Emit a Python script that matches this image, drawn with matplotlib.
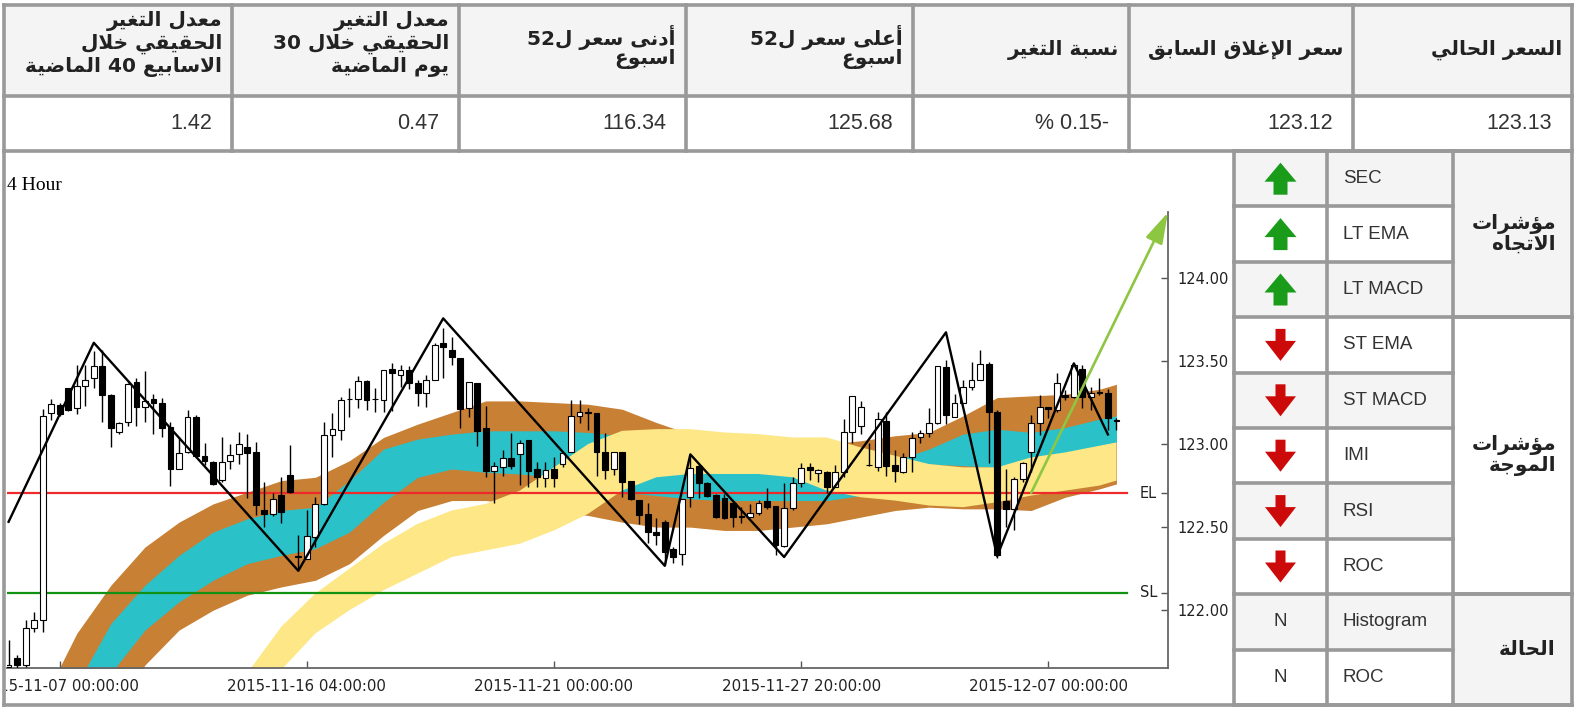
import re
import matplotlib
matplotlib.use("Agg")
import matplotlib.pyplot as plt
from matplotlib.patches import Rectangle, Polygon
from matplotlib.transforms import Bbox, TransformedBbox, blended_transform_factory

W, H = 1576, 709

# ---------------- data ----------------
header_lines = [
    ["معدل التغير", "الحقيقي خلال", "الاسابيع 40 الماضية"],
    ["معدل التغير", "الحقيقي خلال 30", "يوم الماضية"],
    ["أدنى سعر ل52", "اسبوع"],
    ["أعلى سعر ل52", "اسبوع"],
    ["نسبة التغير"],
    ["سعر الإغلاق السابق"],
    ["السعر الحالي"],
]
header_values = ["1.42", "0.47", "116.34", "125.68", "% 0.15-", "123.12", "123.13"]

indicator_names = ["SEC", "LT EMA", "LT MACD", "ST EMA", "ST MACD",
                   "IMI", "RSI", "ROC", "Histogram", "ROC"]
indicator_signal = ["up", "up", "up", "down", "down", "down", "down", "down", "N", "N"]
group_labels = [["مؤشرات", "الاتجاه"], ["مؤشرات", "الموجة"], ["الحالة"]]
group_rows = [(0, 3), (3, 8), (8, 10)]

# 4 hour candles (open, high, low, close)
opens = [121.66, 121.71, 121.67, 121.89, 121.94, 123.185, 123.233, 123.335, 123.215, 123.35,
         123.396, 123.47, 123.295, 123.072, 123.13, 123.375, 123.225, 123.273, 123.25, 123.104,
         122.853, 122.95, 123.161, 122.93, 122.89, 122.783, 122.90, 122.938, 122.984, 122.95,
         122.602, 122.578, 122.693, 122.813, 122.325, 122.311, 122.442, 122.637, 123.054, 123.084,
         123.27, 123.27, 123.38, 123.272, 123.265, 123.452, 123.416, 123.446, 123.365, 123.305,
         123.386, 123.606, 123.566, 123.52, 123.219, 123.365, 123.098, 122.837, 122.863, 122.914,
         122.938, 123.024, 122.847, 122.793, 122.847, 122.88, 122.95, 123.169, 123.195, 123.19,
         122.954, 122.849, 122.954, 122.777, 122.663, 122.582, 122.472, 122.532, 122.371, 122.337,
         122.683, 122.869, 122.763, 122.693, 122.673, 122.643, 122.57, 122.562, 122.588, 122.657,
         122.627, 122.388, 122.618, 122.767, 122.863, 122.827, 122.833, 122.743, 122.833, 123.074,
         123.11, 122.873, 122.863, 123.141, 122.873, 122.833, 122.924, 123.04, 123.068, 123.125,
         123.462, 123.165, 123.249, 123.341, 123.386, 123.482, 123.191, 122.659, 122.608, 122.789,
         122.954, 123.129, 123.221, 123.205, 123.295, 123.281, 123.452, 123.285, 123.315, 123.305,
         123.141]
highs = [121.82, 121.73, 121.94, 121.99, 123.21, 123.27, 123.25, 123.34, 123.476, 123.476,
         123.56, 123.566, 123.30, 123.13, 123.37, 123.40, 123.44, 123.30, 123.28, 123.135,
         123.04, 123.205, 123.175, 123.008, 122.90, 123.04, 123.00, 123.074, 123.058, 123.014,
         122.773, 122.703, 122.803, 122.994, 122.452, 122.602, 122.683, 123.135, 123.185, 123.285,
         123.335, 123.41, 123.386, 123.34, 123.446, 123.49, 123.476, 123.47, 123.386, 123.416,
         123.606, 123.70, 123.647, 123.52, 123.375, 123.365, 123.229, 122.894, 122.964, 123.064,
         123.024, 123.024, 122.89, 122.89, 122.924, 122.944, 123.265, 123.265, 123.215, 123.19,
         123.068, 122.954, 122.954, 122.78, 122.663, 122.643, 122.552, 122.542, 122.381, 122.667,
         122.934, 122.88, 122.77, 122.70, 122.697, 122.65, 122.622, 122.639, 122.663, 122.733,
         122.627, 122.767, 122.803, 122.884, 122.884, 122.853, 122.839, 122.873, 123.149, 123.291,
         123.261, 123.004, 123.195, 123.195, 122.964, 122.948, 123.074, 123.084, 123.215, 123.472,
         123.506, 123.301, 123.386, 123.496, 123.566, 123.496, 123.205, 122.847, 122.80, 122.89,
         123.175, 123.295, 123.225, 123.426, 123.325, 123.486, 123.476, 123.341, 123.396, 123.329,
         123.155]
lows = [121.62, 121.65, 121.66, 121.87, 121.87, 123.145, 123.17, 123.20, 123.18, 123.23,
        123.34, 123.135, 122.984, 123.06, 123.11, 123.11, 123.135, 123.06, 123.044, 122.747,
        122.85, 122.944, 122.924, 122.873, 122.753, 122.773, 122.853, 122.88, 122.677, 122.572,
        122.502, 122.566, 122.526, 122.707, 122.241, 122.31, 122.382, 122.635, 122.924, 123.024,
        123.165, 123.22, 123.205, 123.195, 123.195, 123.20, 123.345, 123.33, 123.229, 123.225,
        123.386, 123.40, 123.476, 123.094, 123.161, 122.99, 122.803, 122.643, 122.809, 122.853,
        122.753, 122.743, 122.743, 122.743, 122.743, 122.863, 122.95, 123.129, 123.084, 122.807,
        122.787, 122.813, 122.683, 122.663, 122.52, 122.402, 122.392, 122.271, 122.287, 122.271,
        122.622, 122.673, 122.68, 122.552, 122.55, 122.502, 122.522, 122.56, 122.572, 122.612,
        122.331, 122.382, 122.602, 122.743, 122.783, 122.773, 122.707, 122.739, 122.803, 123.004,
        123.058, 122.869, 122.839, 122.809, 122.773, 122.823, 122.833, 123.008, 123.044, 123.12,
        123.12, 123.161, 123.249, 123.325, 123.386, 122.884, 122.317, 122.502, 122.482, 122.773,
        122.833, 123.054, 123.155, 123.195, 123.265, 123.275, 123.215, 123.205, 123.295, 123.084,
        123.084]
closes = [121.67, 121.67, 121.89, 121.94, 123.17, 123.24, 123.18, 123.205, 123.35, 123.385,
          123.47, 123.297, 123.094, 123.125, 123.36, 123.225, 123.26, 123.249, 123.094, 122.853,
          122.944, 123.161, 122.928, 122.90, 122.759, 122.894, 122.934, 123.00, 122.944, 122.635,
          122.582, 122.667, 122.592, 122.713, 122.321, 122.448, 122.637, 123.054, 123.088, 123.265,
          123.272, 123.38, 123.265, 123.27, 123.446, 123.426, 123.446, 123.365, 123.305, 123.386,
          123.596, 123.582, 123.526, 123.209, 123.375, 123.08, 122.837, 122.869, 122.914, 122.869,
          123.008, 122.837, 122.803, 122.843, 122.797, 122.944, 123.169, 123.195, 123.19, 122.954,
          122.843, 122.954, 122.773, 122.669, 122.572, 122.468, 122.452, 122.351, 122.321, 122.667,
          122.857, 122.763, 122.687, 122.562, 122.556, 122.562, 122.56, 122.588, 122.643, 122.622,
          122.392, 122.616, 122.767, 122.857, 122.843, 122.843, 122.743, 122.833, 123.074, 123.291,
          123.221, 122.875, 123.149, 122.869, 122.839, 122.924, 123.038, 123.064, 123.125, 123.472,
          123.175, 123.249, 123.341, 123.386, 123.482, 123.191, 122.331, 122.608, 122.789, 122.884,
          123.125, 123.221, 123.209, 123.365, 123.285, 123.476, 123.285, 123.309, 123.305, 123.155,
          123.141]

# moving-average ribbons, sampled every 4 bars
band_idx = [0, 4, 8, 12, 16, 20, 24, 28, 32, 36, 40, 44, 48, 52, 56, 60, 64, 68, 72, 76,
            80, 84, 88, 92, 96, 100, 104, 108, 112, 116, 120, 124, 128, 130]
brown_top = [121.00, 121.45, 121.86, 122.15, 122.38, 122.53, 122.64, 122.71, 122.78, 122.80,
             122.90, 123.04, 123.12, 123.19, 123.26, 123.26, 123.25, 123.24, 123.21, 123.13,
             123.06, 123.03, 123.01, 123.00, 123.00, 123.02, 123.05, 123.07, 123.17, 123.28,
             123.29, 123.30, 123.33, 123.36]
cyan_top = [120.60, 121.05, 121.55, 121.92, 122.15, 122.33, 122.47, 122.55, 122.60, 122.62,
            122.78, 122.97, 123.03, 123.06, 123.08, 123.08, 123.08, 123.07, 123.05, 123.00,
            122.96, 122.93, 122.90, 122.88, 122.86, 122.86, 122.90, 122.97, 123.06, 123.09,
            123.07, 123.10, 123.15, 123.17]
cyan_bot = [120.30, 120.70, 121.10, 121.62, 121.88, 122.05, 122.18, 122.28, 122.33, 122.37,
            122.47, 122.65, 122.80, 122.85, 122.83, 122.82, 122.80, 122.75, 122.71, 122.69,
            122.67, 122.66, 122.66, 122.66, 122.66, 122.69, 122.80, 122.88, 122.87, 122.86,
            122.91, 122.95, 122.99, 123.01]
brown_bot = [119.90, 120.40, 120.90, 121.30, 121.67, 121.88, 122.00, 122.09, 122.14, 122.18,
             122.28, 122.45, 122.60, 122.66, 122.66, 122.64, 122.60, 122.57, 122.53, 122.50,
             122.50, 122.48, 122.48, 122.50, 122.52, 122.56, 122.60, 122.62, 122.61, 122.61,
             122.60, 122.68, 122.73, 122.76]
yellow_top = [119.50, 119.80, 120.10, 120.40, 120.70, 120.95, 121.25, 121.62, 121.90, 122.10,
              122.25, 122.40, 122.52, 122.60, 122.64, 122.72, 122.86, 123.00, 123.08, 123.09,
              123.09, 123.07, 123.06, 123.04, 123.04, 122.98, 122.93, 122.88, 122.86, 122.86,
              122.92, 122.95, 122.99, 123.01]
yellow_bot = [118.80, 119.10, 119.40, 119.70, 120.00, 120.30, 120.70, 121.20, 121.64, 121.86,
              122.00, 122.12, 122.22, 122.32, 122.36, 122.40, 122.48, 122.58, 122.72, 122.80,
              122.82, 122.82, 122.82, 122.80, 122.72, 122.68, 122.66, 122.63, 122.62, 122.65,
              122.69, 122.72, 122.75, 122.78]

zz_idx = [0, 10, 34, 51, 77, 80, 91, 110, 116, 125, 129]
zz_val = [122.532, 123.61, 122.237, 123.757, 122.267, 122.938, 122.32, 123.673, 122.325,
          123.486, 123.058]
trend_start = (120, 122.707)
trend_end = (136.05, 124.395)

EL = 122.705
SL = 122.105
y_ticks = [122.0, 122.5, 123.0, 123.5, 124.0]
x_tick_idx = [6, 35, 64, 93, 122]
x_tick_labels = ["2015-11-07 00:00:00", "2015-11-16 04:00:00", "2015-11-21 00:00:00",
                 "2015-11-27 20:00:00", "2015-12-07 00:00:00"]

# ---------------- arabic shaping (matplotlib has no bidi/shaping) ----------------
DUAL = {"ب": 0xFE8F, "ت": 0xFE95, "ث": 0xFE99, "ج": 0xFE9D, "ح": 0xFEA1, "خ": 0xFEA5,
        "س": 0xFEB1, "ش": 0xFEB5, "ص": 0xFEB9, "ض": 0xFEBD, "ط": 0xFEC1, "ظ": 0xFEC5,
        "ع": 0xFEC9, "غ": 0xFECD, "ف": 0xFED1, "ق": 0xFED5, "ك": 0xFED9, "ل": 0xFEDD,
        "م": 0xFEE1, "ن": 0xFEE5, "ه": 0xFEE9, "ي": 0xFEF1, "ئ": 0xFE89}
RIGHT = {"ا": 0xFE8D, "أ": 0xFE83, "إ": 0xFE87, "آ": 0xFE81, "ة": 0xFE93, "د": 0xFEA9,
         "ذ": 0xFEAB, "ر": 0xFEAD, "ز": 0xFEAF, "و": 0xFEED, "ؤ": 0xFE85, "ى": 0xFEEF}
LAMALEF = {"آ": 0xFEF5, "أ": 0xFEF7, "إ": 0xFEF9, "ا": 0xFEFB}


def shape(s):
    out = []
    i = 0
    while i < len(s):
        ch = s[i]
        pj = i > 0 and s[i - 1] in DUAL
        if ch == "ل" and i + 1 < len(s) and s[i + 1] in LAMALEF:
            out.append(chr(LAMALEF[s[i + 1]] + (1 if pj else 0)))
            i += 2
            continue
        if ch in DUAL:
            nj = i + 1 < len(s) and (s[i + 1] in DUAL or s[i + 1] in RIGHT)
            off = 3 if (pj and nj) else 1 if pj else 2 if nj else 0
            out.append(chr(DUAL[ch] + off))
        elif ch in RIGHT:
            out.append(chr(RIGHT[ch] + (1 if pj else 0)))
        else:
            out.append(ch)
        i += 1
    return "".join(out)


def ar(s):
    toks = re.findall(r"[0-9.]+|.", shape(s))
    return "".join(toks[::-1])


# ---------------- figure / table ----------------
fig = plt.figure(figsize=(W / 100, H / 100), dpi=100)
bg = fig.add_axes([0, 0, 1, 1])
bg.set_xlim(0, W)
bg.set_ylim(H, 0)
bg.axis("off")

gray = "#f4f4f4"
line_c = "#999999"
blw = 2.6
arfont = dict(family="DejaVu Sans", weight="bold", color="#222222")
lafont = dict(family="Liberation Sans", color="#333333")


def cell(x0, y0, x1, y1, fc):
    bg.add_patch(Rectangle((x0, y0), x1 - x0, y1 - y0, facecolor=fc, edgecolor="none", zorder=0))


def hline(y, x0, x1):
    bg.plot([x0, x1], [y, y], color=line_c, lw=blw, zorder=2, solid_capstyle="projecting")


def vline(x, y0, y1):
    bg.plot([x, x], [y0, y1], color=line_c, lw=blw, zorder=2, solid_capstyle="projecting")


col_x = [4, 232, 459, 686, 913, 1129, 1353, 1572]
top_y, mid_y, bot_y = 5, 96, 151
end_y = 705

for j in range(7):
    cell(col_x[j], top_y, col_x[j + 1], mid_y, gray)
    cell(col_x[j], mid_y, col_x[j + 1], bot_y, "white")
hline(top_y, 4, 1572)
hline(mid_y, 4, 1572)
hline(bot_y, 4, 1572)
for x in col_x:
    vline(x, top_y, bot_y)

line_pos = {1: [50], 2: [37, 59], 3: [21, 44, 67]}
for j, lines in enumerate(header_lines):
    for k, ln in enumerate(lines):
        bg.text(col_x[j + 1] - 10, line_pos[len(lines)][k], ar(ln), ha="right", va="center",
                fontsize=14.5, **arfont)
    bg.text(col_x[j + 1] - 20, (mid_y + bot_y) / 2, header_values[j], ha="right", va="center",
            fontsize=15.5, **lafont)

# right indicator panel
px = [1234, 1327, 1453, 1572]
row_h = (end_y - bot_y) / 10
row_y = [bot_y + k * row_h for k in range(11)]
for k in range(10):
    fc = gray if k % 2 == 0 else "white"
    cell(px[0], row_y[k], px[1], row_y[k + 1], fc)
    cell(px[1], row_y[k], px[2], row_y[k + 1], fc)
for g, (r0, r1) in enumerate(group_rows):
    cell(px[2], row_y[r0], px[3], row_y[r1], gray if g != 1 else "white")
cell(4, bot_y, px[0], end_y, "white")

for k in range(11):
    hline(row_y[k], px[0], px[2])
for r0, r1 in group_rows:
    hline(row_y[r0], px[2], px[3])
    hline(row_y[r1], px[2], px[3])
for x in [4] + px:
    vline(x, bot_y, end_y)
hline(end_y, 4, px[3])

for k in range(10):
    cx = (px[0] + px[1]) / 2
    cy = (row_y[k] + row_y[k + 1]) / 2
    sig = indicator_signal[k]
    if sig == "up":
        pts = [(cx, cy - 16), (cx + 16, cy + 3), (cx + 7, cy + 3), (cx + 7, cy + 16),
               (cx - 7, cy + 16), (cx - 7, cy + 3), (cx - 16, cy + 3)]
        bg.add_patch(Polygon(pts, closed=True, facecolor="#1a9c1a", edgecolor="none", zorder=3))
    elif sig == "down":
        pts = [(cx, cy + 16), (cx + 15.5, cy - 4), (cx + 5, cy - 4), (cx + 5, cy - 16),
               (cx - 5, cy - 16), (cx - 5, cy - 4), (cx - 15.5, cy - 4)]
        bg.add_patch(Polygon(pts, closed=True, facecolor="#cc0a0a", edgecolor="none", zorder=3))
    else:
        bg.text(cx, cy, sig, ha="center", va="center", fontsize=13.5, **lafont)
    bg.text(px[1] + 16, cy, indicator_names[k], ha="left", va="center", fontsize=13.5, **lafont)

for lines, (r0, r1) in zip(group_labels, group_rows):
    cy = (row_y[r0] + row_y[r1]) / 2
    n = len(lines)
    for k, ln in enumerate(lines):
        bg.text(px[3] - 16, cy + (k - (n - 1) / 2) * 21, ar(ln), ha="right", va="center",
                fontsize=14.5, **arfont)

bg.text(7, 186, "4 Hour", family="Liberation Serif", fontsize=14, ha="left", va="center")

# ---------------- chart ----------------
ax = fig.add_axes([7.3 / W, 1 - 668.3 / H, (1168 - 7.3) / W, (668.3 - 212.4) / H])
ax.patch.set_alpha(0)

ax.fill_between(band_idx, brown_bot, brown_top, color="#c88034", lw=0, zorder=1)
ax.fill_between(band_idx, cyan_bot, cyan_top, color="#2ac1c9", lw=0, zorder=1.1)
ax.fill_between(band_idx, yellow_bot, yellow_top, color="#fde786", lw=0, zorder=1.2)

ax.plot([-0.15, 131.2], [EL, EL], color="#ee2a2a", lw=1.6, zorder=2)
ax.plot([-0.15, 131.2], [SL, SL], color="#129212", lw=1.6, zorder=2)

idx = list(range(len(opens)))
bottoms = [min(o, c) for o, c in zip(opens, closes)]
heights = [max(abs(c - o), 0.003) for o, c in zip(opens, closes)]
colors = ["white" if c >= o else "black" for o, c in zip(opens, closes)]
ax.vlines(idx, lows, highs, color="black", lw=1.0, zorder=3)
ax.bar(idx, heights, bottom=bottoms, width=0.68, color=colors, edgecolor="black", lw=0.8, zorder=4)

ax.plot(zz_idx, zz_val, color="black", lw=1.7, zorder=5)
ax.annotate("", xy=trend_end, xytext=trend_start, annotation_clip=False,
            arrowprops=dict(arrowstyle="-|>,head_length=1.9,head_width=0.55", color="#8dc641",
                            lw=1.9, shrinkA=0, shrinkB=0), zorder=6)

ax.set_xlim(-0.15, 136.05)
ax.set_ylim(121.65, 124.395)
for s in ["top", "left"]:
    ax.spines[s].set_visible(False)
for s in ["right", "bottom"]:
    ax.spines[s].set_color("#666666")
    ax.spines[s].set_linewidth(1.3)

ax.yaxis.tick_right()
ax.set_yticks(y_ticks)
ax.set_yticklabels(["%.2f" % v for v in y_ticks])
ax.set_yticks([EL, SL], minor=True)
ax.tick_params(axis="y", which="both", direction="in", length=5, width=1, color="#555555",
               labelsize=10.5, labelcolor="#222222", pad=6.5, left=False, right=True)
ax.set_xticks(x_tick_idx)
ax.set_xticklabels(x_tick_labels)
ax.tick_params(axis="x", direction="in", length=5, width=1, color="#555555",
               labelsize=10.8, labelcolor="#222222", pad=7.5)
clip = TransformedBbox(Bbox.from_extents(6 / W, 0, 1, 1), fig.transFigure)
for lab in ax.get_xticklabels():
    lab.set_clip_box(clip)
    lab.set_clip_on(True)

tr = blended_transform_factory(ax.transAxes, ax.transData)
ax.text(0.9906, EL, "EL", transform=tr, ha="right", va="center", fontsize=10.5, color="#222222")
ax.text(0.9906, SL, "SL", transform=tr, ha="right", va="center", fontsize=10.5, color="#222222")

fig.savefig("out.png", dpi=100)
